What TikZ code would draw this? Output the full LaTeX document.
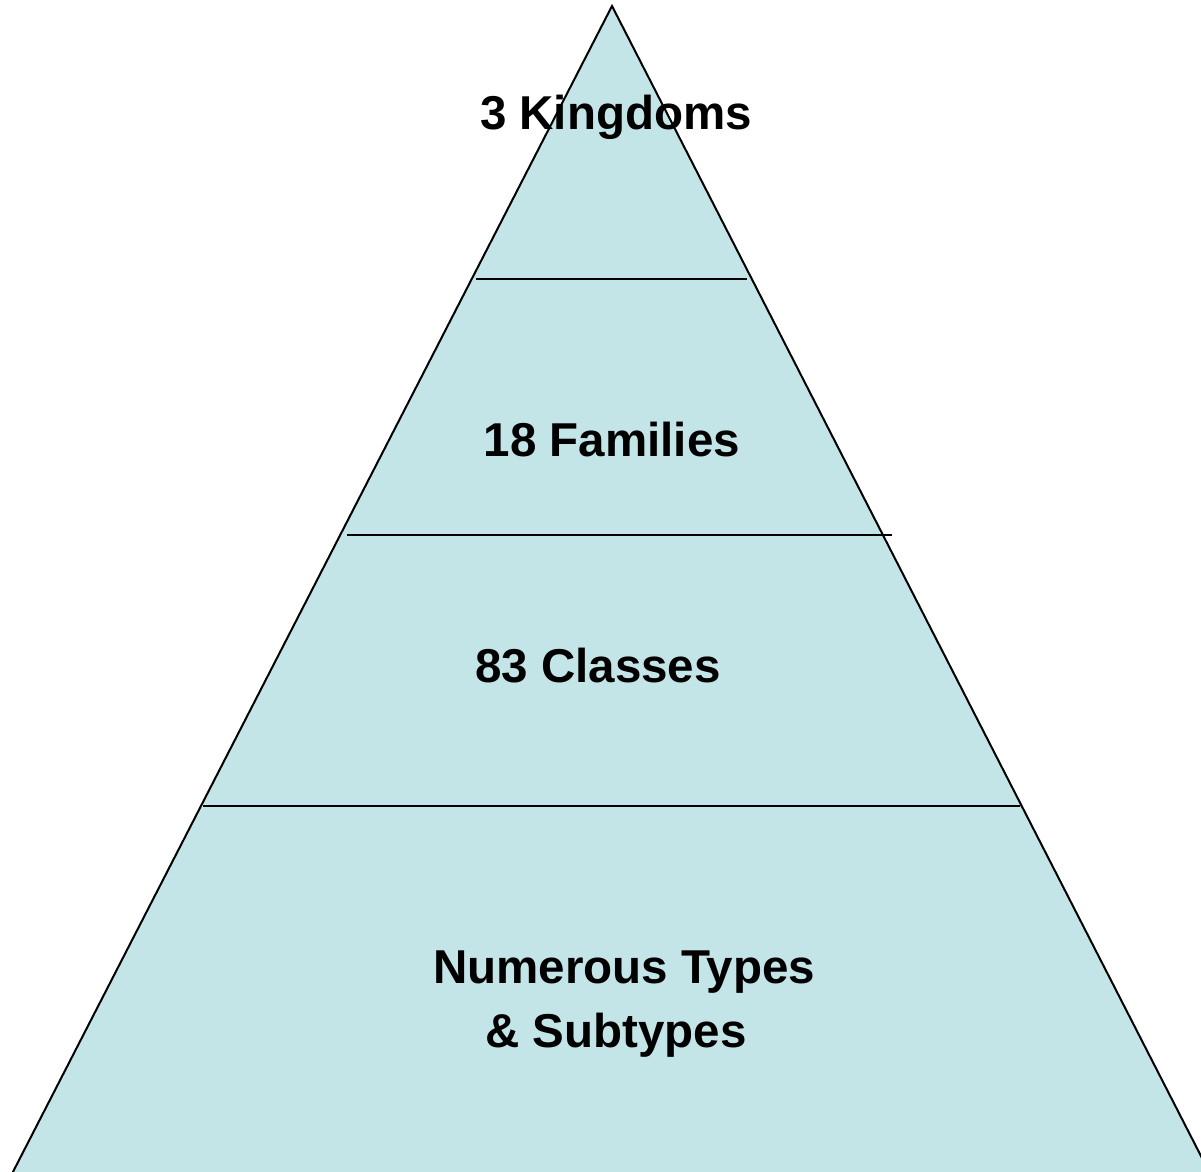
\documentclass[tikz,border=0pt]{standalone}
\usepackage{fontspec}
\setmainfont{Liberation Sans}
\definecolor{tierfill}{RGB}{196,229,232}
\begin{document}
\begin{tikzpicture}[x=1pt,y=-1pt,
  tier/.style={fill=tierfill,draw=black,line width=2pt,line join=miter},
  divider/.style={draw=black,line width=2.4pt},
  label/.style={font=\fontsize{47.5}{57}\selectfont\bfseries,anchor=base,inner sep=0pt}]
  \useasboundingbox (0,0) rectangle (1201,1171);
  \clip (0,0) rectangle (1201,1171);
  % pyramid outline
  \coordinate (apex) at (612,6);
  \coordinate (bl) at (-2,1201);
  \coordinate (br) at (1224,1201);
  \path[tier] (apex) -- (bl) -- (br) -- cycle;
  % tier dividers
  \coordinate (d1l) at (476,279);  \coordinate (d1r) at (747,279);
  \coordinate (d2l) at (347,535);  \coordinate (d2r) at (892,535);
  \coordinate (d3l) at (203,806);  \coordinate (d3r) at (1020,806);
  \draw[divider] (d1l) -- (d1r);
  \draw[divider] (d2l) -- (d2r);
  \draw[divider] (d3l) -- (d3r);
  % tier labels
  \node[label] (kingdoms) at (616,129) {3 Kingdoms};
  \node[label] (families) at (612,456) {18 Families};
  \node[label] (classes) at (598,682) {83 Classes};
  \node[label] (types) at (624,983) {Numerous Types};
  \node[label] (subtypes) at (616,1047) {\& Subtypes};
\end{tikzpicture}
\end{document}
